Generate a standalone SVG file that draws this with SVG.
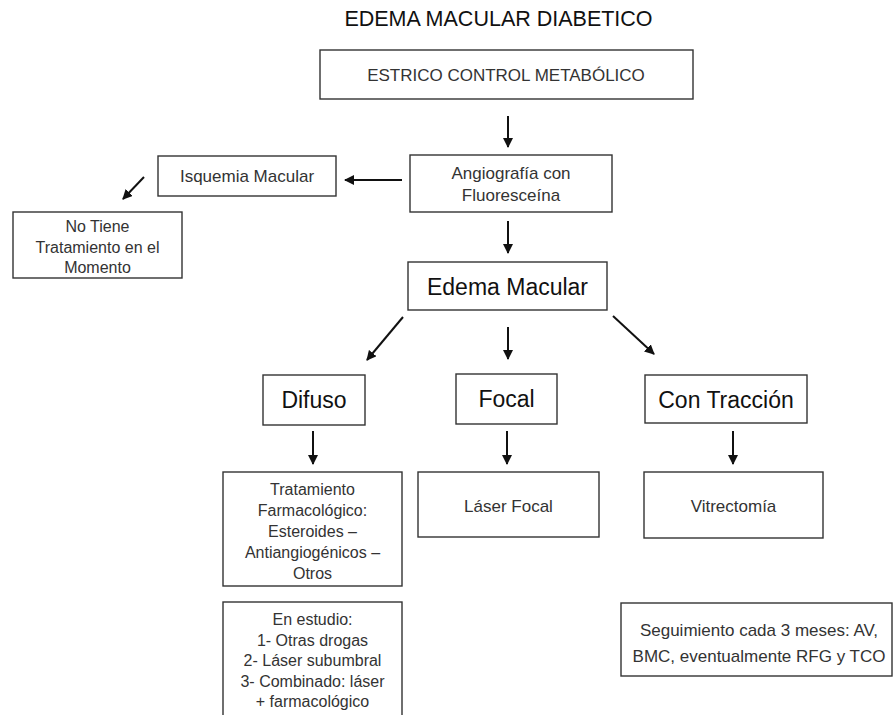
<svg xmlns="http://www.w3.org/2000/svg" width="893" height="715" viewBox="0 0 893 715">
<style>
  .box { fill: #ffffff; stroke: #333333; stroke-width: 1.4; }
  .t { font-family: "Liberation Sans", Arial, sans-serif; fill: #333333; text-anchor: middle; }
  .s17 { font-size: 17px; }
  .s16 { font-size: 16px; }
  .big { font-size: 23px; fill: #111111; }
  .title { font-size: 21.5px; fill: #111111; }
  .conn line { stroke: #111111; stroke-width: 2; marker-end: url(#ah); }
</style>
<defs>
  <marker id="ah" viewBox="0 0 10 10" refX="9" refY="5" markerWidth="5" markerHeight="5" markerUnits="strokeWidth" orient="auto">
    <path d="M0,0 L10,5 L0,10 z" fill="#111111"/>
  </marker>
</defs>
<rect width="893" height="715" fill="#ffffff"/>

<text class="t title" x="498.5" y="26">EDEMA MACULAR DIABETICO</text>

<g id="control">
  <rect class="box" x="320" y="50" width="373" height="49"/>
  <text class="t s17" x="506" y="81">ESTRICO CONTROL METABÓLICO</text>
</g>
<g id="angiografia">
  <rect class="box" x="410" y="155" width="202" height="57"/>
  <text class="t s17" x="511" y="179">Angiografía con</text>
  <text class="t s17" x="511" y="201">Fluoresceína</text>
</g>
<g id="isquemia">
  <rect class="box" x="158" y="156" width="178" height="40"/>
  <text class="t s17" x="247" y="182">Isquemia Macular</text>
</g>
<g id="notiene">
  <rect class="box" x="13" y="212" width="169" height="66"/>
  <text class="t s16" x="97.5" y="232">No Tiene</text>
  <text class="t s16" x="97.5" y="252.5">Tratamiento en el</text>
  <text class="t s16" x="97.5" y="273">Momento</text>
</g>
<g id="edema">
  <rect class="box" x="408" y="262" width="199" height="48"/>
  <text class="t big" x="507.5" y="295">Edema Macular</text>
</g>
<g id="difuso">
  <rect class="box" x="263" y="375" width="102" height="50"/>
  <text class="t big" x="314" y="408">Difuso</text>
</g>
<g id="focal">
  <rect class="box" x="456" y="374" width="101" height="50"/>
  <text class="t big" x="506.5" y="407">Focal</text>
</g>
<g id="traccion">
  <rect class="box" x="645" y="375" width="162" height="48"/>
  <text class="t big" x="726" y="408">Con Tracción</text>
</g>
<g id="tratamiento">
  <rect class="box" x="223" y="472" width="179" height="114"/>
  <text class="t s16" x="312.5" y="494.5">Tratamiento</text>
  <text class="t s16" x="312.5" y="515.5">Farmacológico:</text>
  <text class="t s16" x="312.5" y="536.5">Esteroides –</text>
  <text class="t s16" x="312.5" y="557.5">Antiangiogénicos –</text>
  <text class="t s16" x="312.5" y="578.5">Otros</text>
</g>
<g id="laser">
  <rect class="box" x="418" y="472" width="181" height="65"/>
  <text class="t s17" x="508.5" y="512">Láser Focal</text>
</g>
<g id="vitrectomia">
  <rect class="box" x="644" y="472" width="179" height="66"/>
  <text class="t s17" x="733.5" y="512">Vitrectomía</text>
</g>
<g id="estudio">
  <rect class="box" x="223" y="602" width="179" height="125"/>
  <text class="t s16" x="312.5" y="625">En estudio:</text>
  <text class="t s16" x="312.5" y="645.5">1- Otras drogas</text>
  <text class="t s16" x="312.5" y="666">2- Láser subumbral</text>
  <text class="t s16" x="312.5" y="686.5">3- Combinado: láser</text>
  <text class="t s16" x="312.5" y="707">+ farmacológico</text>
</g>
<g id="seguimiento">
  <rect class="box" x="621" y="603" width="271" height="73"/>
  <text class="t s17" x="759" y="636">Seguimiento cada 3 meses: AV,</text>
  <text class="t s17" x="759" y="662">BMC, eventualmente RFG y TCO</text>
</g>

<g id="connectors" class="conn">
  <line x1="508" y1="116" x2="508" y2="147"/>
  <line x1="402" y1="180" x2="345" y2="180"/>
  <line x1="144" y1="177" x2="123" y2="199"/>
  <line x1="508" y1="221" x2="508" y2="253"/>
  <line x1="403" y1="317" x2="367" y2="360"/>
  <line x1="508" y1="327" x2="508" y2="359"/>
  <line x1="613" y1="316" x2="654" y2="354"/>
  <line x1="313" y1="431" x2="313" y2="464"/>
  <line x1="507" y1="431" x2="507" y2="464"/>
  <line x1="733" y1="431" x2="733" y2="464"/>
</g>
</svg>
